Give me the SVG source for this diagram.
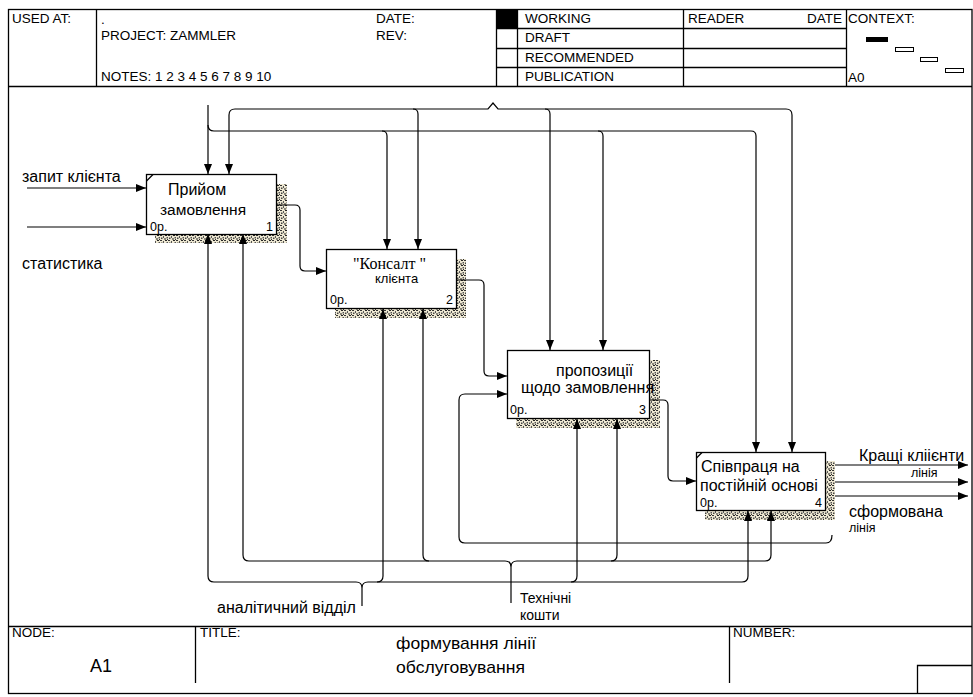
<svg xmlns="http://www.w3.org/2000/svg" width="973" height="697" viewBox="0 0 973 697">
<style>
.t{font-family:"Liberation Sans",Arial,sans-serif;fill:#000}
.h{font-size:13.5px}
.b{font-size:16px}
.s{font-size:12.5px}
.ln{fill:none;stroke:#000;stroke-width:1.2}
.fr{fill:none;stroke:#000;stroke-width:1.3}
.box{fill:#fff;stroke:#000;stroke-width:1.3}
.sh{fill:url(#speck)}
.c{fill:none;stroke:#000;stroke-width:1.2}
.ca{fill:none;stroke:#000;stroke-width:1.2;marker-end:url(#arr)}
</style>
<defs>
<marker id="arr" viewBox="0 0 10 8" refX="10" refY="4" markerWidth="10" markerHeight="8" markerUnits="userSpaceOnUse" orient="auto">
<path d="M0,0 L10,4 L0,8 z" fill="#000"/>
</marker>
<pattern id="speck" width="8" height="5" patternUnits="userSpaceOnUse">
<rect width="8" height="5" fill="#eee8d2"/>
<rect x="0" y="0" width="2" height="1" fill="#333"/>
<rect x="3" y="1" width="1" height="2" fill="#555"/>
<rect x="5" y="0" width="2" height="1" fill="#222"/>
<rect x="1" y="2.5" width="1.5" height="1.5" fill="#444"/>
<rect x="4" y="3.5" width="2" height="1" fill="#222"/>
<rect x="6.5" y="2" width="1.5" height="1.5" fill="#555"/>
<rect x="7" y="4" width="1" height="1" fill="#333"/>
</pattern>
</defs>
<rect width="973" height="697" fill="#fff"/>

<g id="frame">
<rect class="fr" x="8.5" y="9.5" width="963.5" height="684"/>
<line class="fr" x1="8" y1="86.5" x2="972" y2="86.5"/>
<line class="fr" x1="96.5" y1="9" x2="96.5" y2="86"/>
<line class="fr" x1="496.5" y1="9" x2="496.5" y2="86"/>
<rect x="496.5" y="9.5" width="21" height="19" fill="#000"/>
<line class="fr" x1="517.5" y1="9" x2="517.5" y2="86"/>
<line class="fr" x1="683.5" y1="9" x2="683.5" y2="86"/>
<line class="fr" x1="846.5" y1="9" x2="846.5" y2="86"/>
<line class="fr" x1="496" y1="28.5" x2="846" y2="28.5"/>
<line class="fr" x1="496" y1="48.5" x2="846" y2="48.5"/>
<line class="fr" x1="496" y1="67.5" x2="846" y2="67.5"/>
<rect x="866" y="37" width="22" height="5" fill="#000"/>
<rect x="895.5" y="47.5" width="18" height="4" fill="#fff" stroke="#000"/>
<rect x="920.5" y="57.5" width="17" height="4" fill="#fff" stroke="#000"/>
<rect x="945.5" y="68.5" width="18" height="4" fill="#fff" stroke="#000"/>
<text class="t h" x="12" y="23">USED AT:</text>
<text class="t h" x="101" y="24">.</text>
<text class="t h" x="101" y="40">PROJECT: ZAMMLER</text>
<text class="t h" x="101" y="81">NOTES: 1 2 3 4 5 6 7 8 9 10</text>
<text class="t h" x="376" y="23">DATE:</text>
<text class="t h" x="376" y="40">REV:</text>
<text class="t h" x="525" y="23">WORKING</text>
<text class="t h" x="525" y="42">DRAFT</text>
<text class="t h" x="525" y="62">RECOMMENDED</text>
<text class="t h" x="525" y="81">PUBLICATION</text>
<text class="t h" x="688" y="23">READER</text>
<text class="t h" x="842" y="23" text-anchor="end">DATE</text>
<text class="t h" x="848" y="23">CONTEXT:</text>
<text class="t h" x="848" y="82">A0</text>
<line class="fr" x1="8" y1="626.5" x2="972" y2="626.5"/>
<line class="fr" x1="195.5" y1="626" x2="195.5" y2="683"/>
<line class="fr" x1="729.5" y1="626" x2="729.5" y2="683"/>
<path class="fr" d="M917.5 693 V665.5 H972"/>
<text class="t h" x="12" y="637">NODE:</text>
<text class="t" x="90" y="672" font-size="18">A1</text>
<text class="t h" x="200" y="637">TITLE:</text>
<text class="t" x="396" y="649" font-size="17" textLength="140" lengthAdjust="spacingAndGlyphs">формування лінії</text>
<text class="t" x="396" y="673" font-size="17" textLength="129" lengthAdjust="spacingAndGlyphs">обслуговування</text>
<text class="t h" x="733" y="637">NUMBER:</text>
</g>

<g id="node1">
<rect class="sh" x="277" y="184" width="10" height="59"/>
<rect class="sh" x="155" y="234" width="132" height="9"/>
<rect class="box" x="146.5" y="174.5" width="130" height="60"/>
<line class="ln" x1="146.5" y1="181" x2="153" y2="174.5"/>
<text class="t b" x="168" y="195">Прийом</text>
<text class="t" x="160" y="215" font-size="15.5">замовлення</text>
<text class="t s" x="150" y="231">0р.</text>
<text class="t s" x="273" y="231" text-anchor="end">1</text>
</g>

<g id="node2">
<rect class="sh" x="457" y="259" width="9" height="59"/>
<rect class="sh" x="335" y="309" width="131" height="9"/>
<rect class="box" x="326.5" y="249.5" width="130" height="59"/>
<text x="353" y="269" font-family="'Liberation Serif','Times New Roman',serif" font-size="16">"Консалт "</text>
<text class="t" x="375" y="283" font-size="13">клієнта</text>
<text class="t s" x="330" y="304">0р.</text>
<text class="t s" x="453" y="304" text-anchor="end">2</text>
</g>

<g id="node3">
<rect class="sh" x="650" y="360" width="10" height="68"/>
<rect class="sh" x="516" y="419" width="144" height="9"/>
<rect class="box" x="507.5" y="350.5" width="142" height="68"/>
<text class="t b" x="556" y="376">пропозиції</text>
<text class="t b" x="521" y="393">щодо замовлення</text>
<text class="t s" x="510" y="414">0р.</text>
<text class="t s" x="646" y="414" text-anchor="end">3</text>
</g>

<g id="node4">
<rect class="sh" x="826" y="461" width="9" height="59"/>
<rect class="sh" x="705" y="511" width="130" height="9"/>
<rect class="box" x="696.5" y="452.5" width="129" height="58"/>
<line class="ln" x1="696.5" y1="458" x2="702" y2="452.5"/>
<text class="t b" x="701" y="472">Співпраця на</text>
<text class="t b" x="700" y="491">постійній основі</text>
<text class="t s" x="700" y="507">0р.</text>
<text class="t s" x="822" y="507" text-anchor="end">4</text>
</g>

<g id="connectors">
<path class="ca" d="M27 188 H146"/>
<path class="ca" d="M27 227 H146"/>
<path class="ca" d="M277 205 H295 Q300 205 300 210 V266 Q300 271 305 271 H326"/>
<path class="ca" d="M457 280 H479 Q484 280 484 285 V371 Q484 376 489 376 H507"/>
<path class="ca" d="M650 400 H663 Q668 400 668 405 V476 Q668 481 673 481 H696"/>
<path class="ca" d="M835 465 H968"/>
<path class="ca" d="M835 482 H968"/>
<path class="ca" d="M835 496 H968"/>
<path class="ca" d="M832 535 Q832 543 826 543 H465 Q459 543 459 537 V400 Q459 394 465 394 H507"/>

<path class="ca" d="M208 105 V174"/>
<path class="c" d="M208 125 Q208 131 214 131 H751 Q756 131 756 136"/>
<path class="ca" d="M756 136 V452"/>
<path class="ca" d="M382 131 Q387 131 387 136 V249"/>
<path class="ca" d="M598 131 Q603 131 603 136 V350"/>
<path class="ca" d="M235 109 Q229 109 229 115 V174"/>
<path class="c" d="M235 109 H488 L493 103 L498 109 H786 Q792 109 792 115"/>
<path class="ca" d="M792 115 V452"/>
<path class="ca" d="M413 109 Q418 109 418 114 V249"/>
<path class="ca" d="M545 109 Q550 109 550 114 V350"/>

<path class="ca" d="M214 582 Q208 582 208 576 V234"/>
<path class="c" d="M214 582 H356 Q362 582 362 588 Q362 582 368 582 H742 Q748 582 748 576"/>
<path class="ca" d="M748 576 V511"/>
<path class="c" d="M362 588 V606"/>
<path class="ca" d="M377 582 Q383 582 383 576 V309"/>
<path class="ca" d="M571 582 Q577 582 577 576 V419"/>

<path class="ca" d="M249 561 Q243 561 243 555 V234"/>
<path class="c" d="M249 561 H505 Q511 561 511 567 Q511 561 517 561 H765 Q771 561 771 555"/>
<path class="ca" d="M771 555 V511"/>
<path class="c" d="M511 567 V603"/>
<path class="ca" d="M429 561 Q423 561 423 555 V309"/>
<path class="ca" d="M611 561 Q617 561 617 555 V419"/>
</g>

<g id="labels">
<text class="t b" x="22" y="182">запит клієнта</text>
<text class="t b" x="22" y="269">статистика</text>
<text class="t b" x="859" y="461">Кращі кліієнти</text>
<text class="t" x="911" y="477" font-size="12.5">лінія</text>
<text class="t b" x="849" y="517">сформована</text>
<text class="t" x="849" y="532" font-size="12.5">лінія</text>
<text class="t b" x="217" y="613">аналітичний відділ</text>
<text class="t" x="520" y="603" font-size="14">Технічні</text>
<text class="t" x="520" y="620" font-size="14">кошти</text>
</g>
</svg>
